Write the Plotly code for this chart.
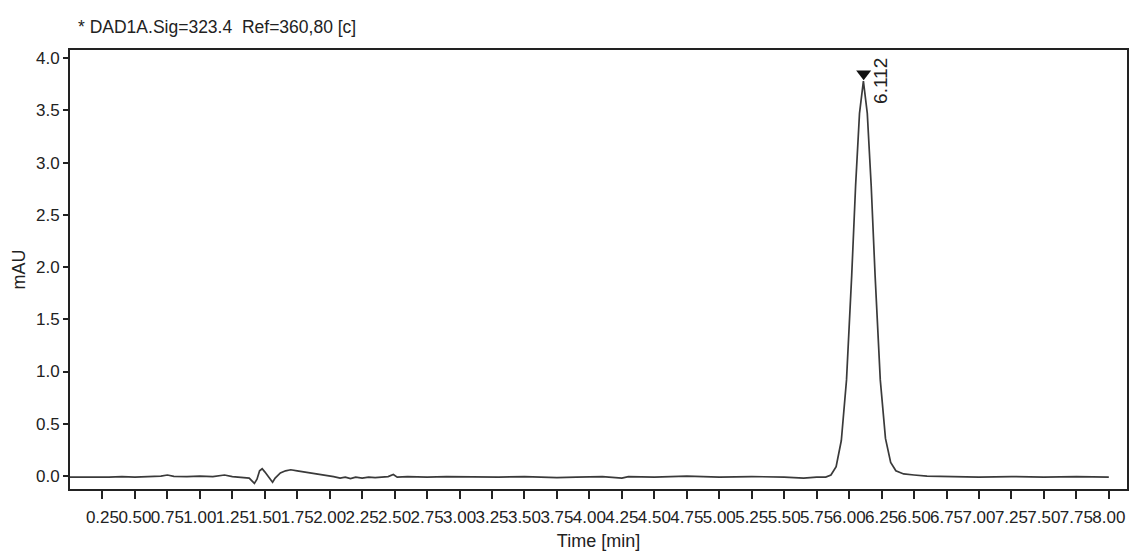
import plotly.graph_objects as go

# --- data ---
time_min = [0.00, 0.10, 0.20, 0.30, 0.40, 0.50, 0.60, 0.70, 0.75, 0.80, 0.90, 1.00,
            1.10, 1.19, 1.25, 1.33, 1.38, 1.42, 1.44, 1.46, 1.48, 1.50, 1.53, 1.56,
            1.58, 1.62, 1.66, 1.70, 1.75, 1.80, 1.86, 1.92, 1.98, 2.03, 2.08, 2.12,
            2.16, 2.20, 2.25, 2.30, 2.35, 2.40, 2.45, 2.49, 2.52, 2.60, 2.75, 2.90,
            3.10, 3.30, 3.50, 3.75, 3.90, 4.10, 4.25, 4.30, 4.50, 4.75, 5.00, 5.25,
            5.50, 5.65, 5.75, 5.82, 5.86, 5.90, 5.94, 5.98, 6.02, 6.05, 6.08, 6.11,
            6.14, 6.17, 6.20, 6.24, 6.28, 6.32, 6.36, 6.42, 6.50, 6.60, 6.80, 7.00,
            7.25, 7.50, 7.75, 8.00]
signal_mau = [-0.010, -0.012, -0.008, -0.010, -0.005, -0.010, -0.005, 0.000, 0.010, -0.003, -0.005, 0.000,
              -0.005, 0.010, -0.005, -0.010, -0.020, -0.070, -0.030, 0.050, 0.070, 0.040, -0.010, -0.060,
              -0.020, 0.030, 0.050, 0.060, 0.050, 0.040, 0.030, 0.020, 0.010, -0.005, -0.020, -0.010,
              -0.025, -0.010, -0.020, -0.010, -0.015, -0.010, -0.005, 0.015, -0.010, -0.005, -0.010, -0.005,
              -0.010, -0.010, -0.005, -0.015, -0.010, -0.005, -0.020, -0.005, -0.010, 0.000, -0.010, -0.005,
              -0.010, -0.020, -0.010, -0.010, 0.010, 0.090, 0.340, 0.920, 1.920, 2.780, 3.470, 3.780,
              3.470, 2.780, 1.920, 0.920, 0.360, 0.130, 0.050, 0.020, 0.010, 0.000, -0.005, -0.010,
              -0.005, -0.010, -0.005, -0.010]

peak_rt = [6.112]
peak_height = [3.85]
peak_labels = ["6.112"]

x_tickvals = [0.25, 0.50, 0.75, 1.00, 1.25, 1.50, 1.75, 2.00, 2.25, 2.50, 2.75, 3.00,
              3.25, 3.50, 3.75, 4.00, 4.25, 4.50, 4.75, 5.00, 5.25, 5.50, 5.75, 6.00,
              6.25, 6.50, 6.75, 7.00, 7.25, 7.50, 7.75, 8.00]
x_ticktext = ["%.2f" % v for v in x_tickvals]
y_tickvals = [0.0, 0.5, 1.0, 1.5, 2.0, 2.5, 3.0, 3.5, 4.0]
y_ticktext = ["%.1f" % v for v in y_tickvals]

FONT = "Liberation Sans, Arial, sans-serif"
INK = "#222"

fig = go.Figure()
fig.add_trace(go.Scatter(x=time_min, y=signal_mau, mode="lines",
                         line=dict(color="#3a3a3a", width=1.7), showlegend=False,
                         hoverinfo="skip"))
fig.add_trace(go.Scatter(x=peak_rt, y=peak_height, mode="markers",
                         marker=dict(symbol="triangle-down", size=13, color="#111"),
                         showlegend=False, hoverinfo="skip"))
for rt, h, lab in zip(peak_rt, peak_height, peak_labels):
    fig.add_annotation(x=rt, y=h, text=lab, textangle=-90, showarrow=False,
                       xanchor="left", yanchor="top", xshift=5, yshift=18,
                       font=dict(family=FONT, size=19, color=INK))

axis_common = dict(showline=True, linecolor=INK, linewidth=2, mirror=True,
                   showgrid=False, zeroline=False, ticks="outside", tickcolor=INK,
                   tickwidth=2, tickfont=dict(family=FONT, size=17, color=INK))

fig.update_xaxes(range=[0.0, 8.14], tickmode="array", tickvals=x_tickvals,
                 ticktext=x_ticktext, tickangle=0, ticklen=8, automargin=False,
                 ticklabelstandoff=4,
                 title=dict(text="Time [min]", font=dict(family=FONT, size=18, color=INK),
                            standoff=8),
                 **axis_common)
fig.update_yaxes(range=[-0.124, 4.077], tickmode="array", tickvals=y_tickvals,
                 ticktext=y_ticktext, ticklen=5, automargin=False,
                 title=dict(text="mAU", font=dict(family=FONT, size=18, color=INK),
                            standoff=6),
                 **axis_common)

fig.update_layout(
    width=1129, height=554,
    margin=dict(l=70, r=2, t=50, b=65),
    paper_bgcolor="white", plot_bgcolor="white",
    title=dict(text="* DAD1A.Sig=323.4  Ref=360,80 [c]", x=78 / 1129, xref="container",
               xanchor="left", y=1 - 27 / 554, yref="container", yanchor="middle",
               font=dict(family=FONT, size=17.5, color=INK)),
)

fig.write_html("out.html", config={"displayModeBar": False},
               post_script="document.body.style.margin='0';document.body.style.padding='0';")
